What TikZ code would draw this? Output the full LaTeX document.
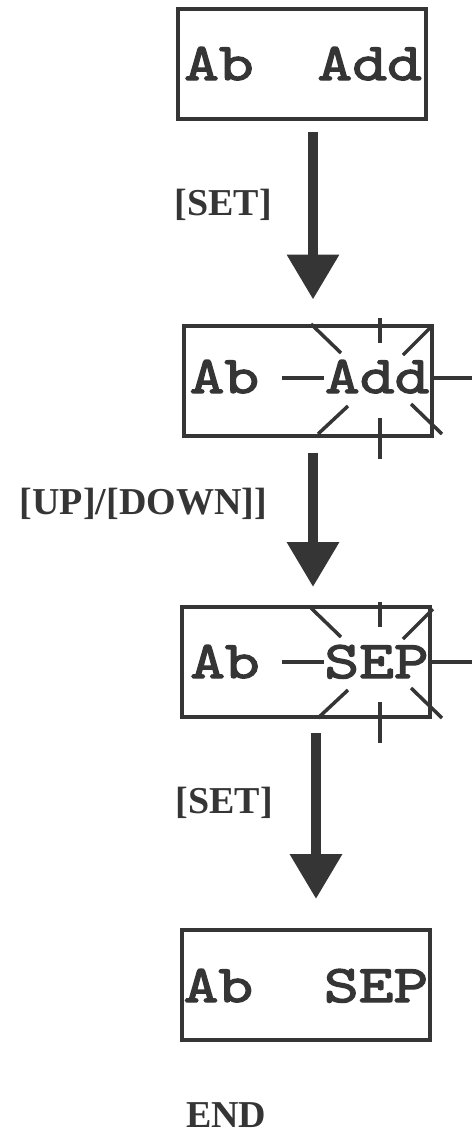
\documentclass[tikz,border=0pt]{standalone}
\usepackage{fontspec}
\setmainfont{Liberation Serif}
\newfontfamily\lcdfont{lmmono10-regular.otf}[FakeBold=2.5,FakeStretch=1.25]
\usetikzlibrary{arrows.meta}
\definecolor{ink}{HTML}{353535}

% blinking marks round the value that is being edited
\newcommand\blinkmarks[1]{%
  \foreach \ax/\ay/\bx/\by in {-69/-54/-39/-25, 0/-60/0/-35, 23/-23/53/-53, 51/0/92/0,
                               -98/0/-56/0, -62/56/-32/28, 0/40/0/81, 31/26/62/56}
    \draw[flash] ([shift={(\ax,\ay)}]#1) -- ([shift={(\bx,\by)}]#1);
}

\begin{document}
\begin{tikzpicture}[x=1pt, y=-1pt,
    lcd/.style={draw=ink, line width=4pt, minimum width=248pt, minimum height=110pt, inner sep=0pt},
    digits/.style={text=ink, inner sep=0pt, font=\fontsize{53}{58}\lcdfont},
    keylabel/.style={text=ink, inner sep=0pt, font=\fontsize{38}{40}\selectfont\bfseries},
    flow/.style={draw=ink, line width=10pt, -{Triangle[length=45pt,width=50pt]}},
    flash/.style={draw=ink, line width=3.5pt}]

      \useasboundingbox (0,0) rectangle (473,1133);

      % Displays
      \node[lcd] (box1) at (302,64) {};
      \node[lcd] (box2) at (307.5,380.5) {};
      \node[lcd] (box3) at (306,662) {};
      \node[lcd] (box4) at (305.5,985) {};

      % Display texts
      \node[digits, anchor=base west] (ab1) at ([xshift=8pt,yshift=-16pt]box1.west) {Ab};
      \node[digits, anchor=base east] (val1) at ([xshift=-6pt,yshift=-16pt]box1.east) {Add};
      \node[digits, anchor=base west] (ab2) at ([xshift=8pt,yshift=-12.5pt]box2.west) {Ab};
      \node[digits, anchor=base east] (val2) at ([xshift=-4pt,yshift=-12.5pt]box2.east) {Add};
      \node[digits, anchor=base west] (ab3) at ([xshift=10pt,yshift=-16pt]box3.west) {Ab};
      \node[digits, anchor=base east] (val3) at ([xshift=-3pt,yshift=-16pt]box3.east) {SEP};
      \node[digits, anchor=base west] (ab4) at ([xshift=4pt,yshift=-17pt]box4.west) {Ab};
      \node[digits, anchor=base east] (val4) at ([xshift=-3pt,yshift=-17pt]box4.east) {SEP};

      % Blinking values
      \coordinate (star2) at ([xshift=72.5pt,yshift=2.5pt]box2.center);
      \coordinate (star3) at ([xshift=74pt]box3.center);
      \blinkmarks{star2}
      \blinkmarks{star3}

      % Steps
      \draw[flow, shorten <=11pt, shorten >=24pt] ([xshift=11pt]box1.south) -- ([xshift=5.5pt]box2.north);
      \draw[flow, shorten <=15pt, shorten >=18pt] ([xshift=5.5pt]box2.south) -- ([xshift=7pt]box3.north);
      \draw[flow, shorten <=14pt, shorten >=29pt] ([xshift=10pt]box3.south) -- ([xshift=10.5pt]box4.north);

      % Keys
      \node[keylabel, anchor=base east] (key1) at (272,215) {[SET]};
      \node[keylabel, anchor=base east] (key2) at (267,514) {[UP]/[DOWN]]};
      \node[keylabel, anchor=base east] (key3) at (273,813) {[SET]};
      \node[keylabel, anchor=base west] (done) at (186,1127) {END};

  \end{tikzpicture}
\end{document}
